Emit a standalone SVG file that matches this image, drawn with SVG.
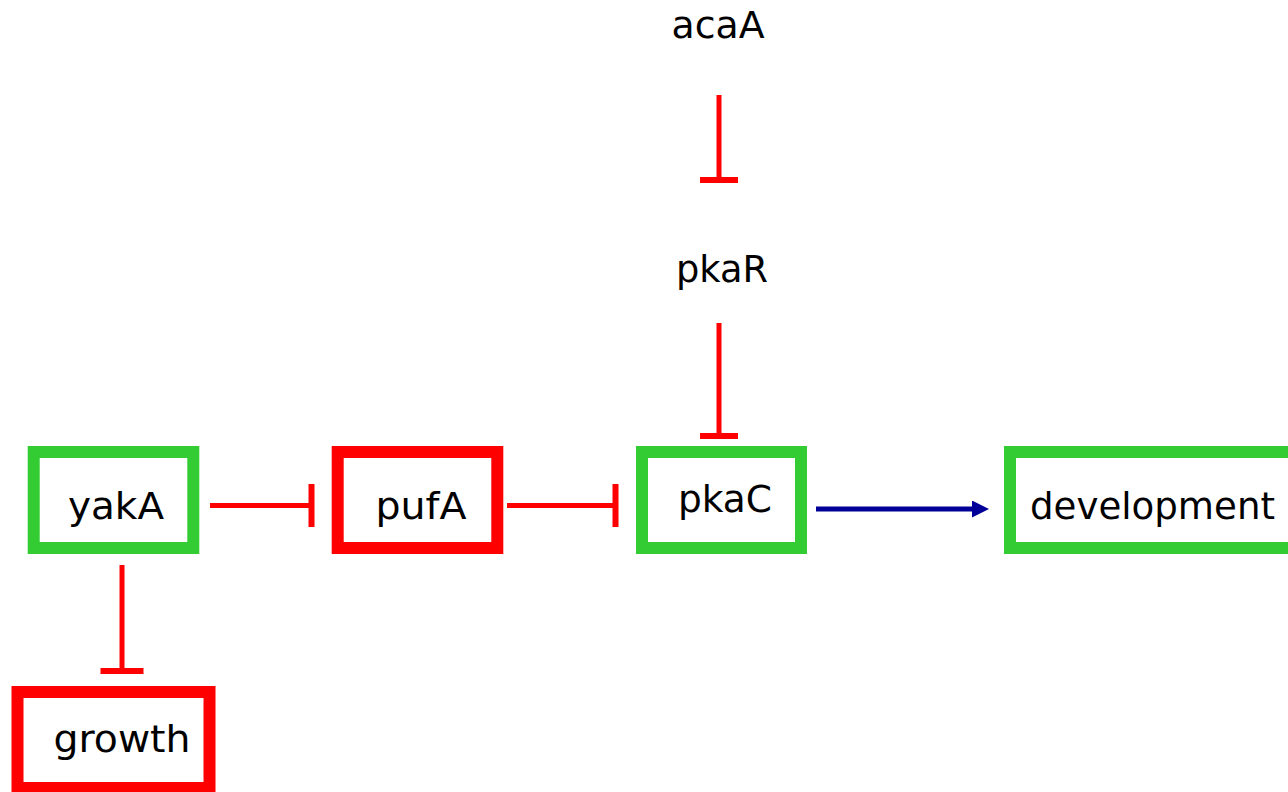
<svg xmlns="http://www.w3.org/2000/svg" width="1288" height="792" viewBox="0 0 1288 792">
  <style>
    .lbl { font-family: "DejaVu Sans", "Liberation Sans", sans-serif; font-size: 38px; fill: #000; text-anchor: middle; }
    .box { fill: #fff; stroke-width: 12; }
    .on { stroke: #33CC33; }
    .off { stroke: #FF0000; }
    .inh { stroke: #FF0000; stroke-width: 5; fill: none; }
    .act { stroke: #000099; stroke-width: 5; fill: none; }
  </style>
  <defs>
    <!-- flat bar ending an inhibition edge (horizontal edges) -->
    <marker id="barH" markerUnits="userSpaceOnUse" markerWidth="8" markerHeight="44" viewBox="0 0 8 44" refX="4" refY="21.5" orient="auto">
      <rect x="1" y="0" width="6" height="43" fill="#FF0000"/>
    </marker>
    <!-- shorter bar used on the vertical edges -->
    <marker id="barV" markerUnits="userSpaceOnUse" markerWidth="8" markerHeight="40" viewBox="0 0 8 40" refX="4" refY="19" orient="auto">
      <rect x="1" y="0" width="6" height="38" fill="#FF0000"/>
    </marker>
    <!-- triangular head for activation edges -->
    <marker id="arrow" markerUnits="userSpaceOnUse" markerWidth="18" markerHeight="18" viewBox="0 0 18 18" refX="0" refY="8.5" orient="auto">
      <path d="M0,0 L17,8.5 L0,17 Z" fill="#000099"/>
    </marker>
  </defs>
  <rect width="1288" height="792" fill="#fff"/>

  <g id="connectors">
    <line class="inh" x1="719" y1="95" x2="719" y2="180" marker-end="url(#barV)"/>
    <line class="inh" x1="719" y1="323" x2="719" y2="436" marker-end="url(#barV)"/>
    <line class="inh" x1="210" y1="505.5" x2="311.5" y2="505.5" marker-end="url(#barH)"/>
    <line class="inh" x1="507" y1="505.5" x2="615.5" y2="505.5" marker-end="url(#barH)"/>
    <line class="inh" x1="122" y1="565" x2="122" y2="671" marker-end="url(#barH)"/>
    <line class="act" x1="816" y1="509" x2="972" y2="509" marker-end="url(#arrow)"/>
  </g>

  <g id="acaA">
    <text class="lbl" x="718" y="38" textLength="93" lengthAdjust="spacingAndGlyphs">acaA</text>
  </g>
  <g id="pkaR">
    <text class="lbl" x="722" y="282" textLength="92" lengthAdjust="spacingAndGlyphs">pkaR</text>
  </g>
  <g id="yakA">
    <rect class="box on" x="33.7" y="452" width="159.6" height="96"/>
    <text class="lbl" x="116" y="519" textLength="96" lengthAdjust="spacingAndGlyphs">yakA</text>
  </g>
  <g id="pufA">
    <rect class="box off" x="337.7" y="452" width="159.6" height="96"/>
    <text class="lbl" x="421" y="519" textLength="91" lengthAdjust="spacingAndGlyphs">pufA</text>
  </g>
  <g id="pkaC">
    <rect class="box on" x="642" y="452" width="159" height="96"/>
    <text class="lbl" x="725" y="512" textLength="94" lengthAdjust="spacingAndGlyphs">pkaC</text>
  </g>
  <g id="development">
    <rect class="box on" x="1010" y="452" width="300" height="96"/>
    <text class="lbl" x="1152.5" y="519" textLength="245" lengthAdjust="spacingAndGlyphs">development</text>
  </g>
  <g id="growth">
    <rect class="box off" x="17.5" y="692" width="192" height="96"/>
    <text class="lbl" x="122" y="752" textLength="137" lengthAdjust="spacingAndGlyphs">growth</text>
  </g>
</svg>
